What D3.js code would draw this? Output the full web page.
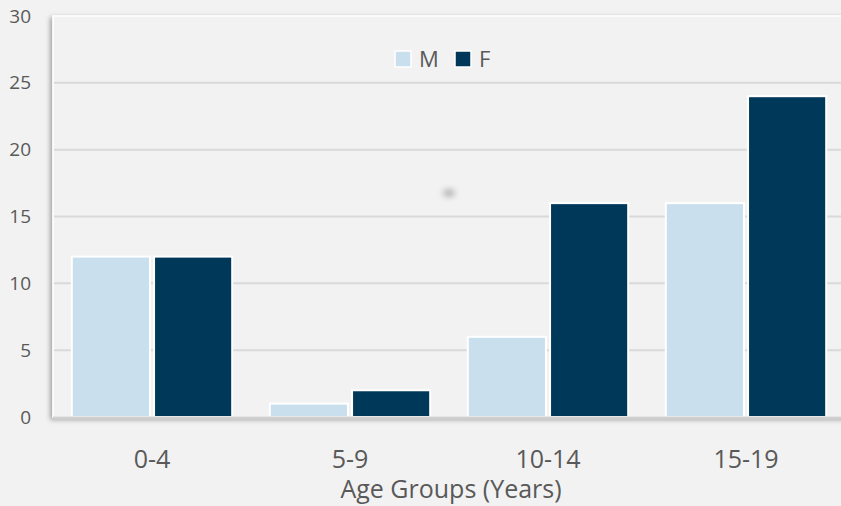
<!DOCTYPE html>
<html>
<head>
<meta charset="utf-8">
<script src="https://cdn.jsdelivr.net/npm/d3@7"></script>
<style>
  body { margin: 0; background: #f2f2f2; }
  svg { display: block; font-family: "Open Sans", "Noto Sans", sans-serif; }
</style>
</head>
<body>
<svg id="viz" width="841" height="506"></svg>
<script>
const ageGroups = ["0-4", "5-9", "10-14", "15-19"],
    sexes = ["M", "F"],
    maleCounts = [12, 1, 6, 16],
    femaleCounts = [12, 2, 16, 24],
    yTicks = [0, 5, 10, 15, 20, 25, 30]

const colors = { M: "#c9dfed", F: "#003859" }

const svg = d3.select("#viz"),
    plotLeft = 53, plotTop = 16, plotRight = 845, plotBottom = 417

const rows = ageGroups.map((g, i) => ({ group: g, M: maleCounts[i], F: femaleCounts[i] }))

const x0 = d3.scaleBand().domain(ageGroups).range([plotLeft, plotRight])
    .paddingInner(0.19).paddingOuter(0.095)
const x1 = d3.scaleBand().domain(sexes).range([0, x0.bandwidth()]).paddingInner(0.05)
const y = d3.scaleLinear().domain([0, 30]).range([plotBottom, plotTop])

// shadow for plot area
const defs = svg.append("defs")
const shadow = defs.append("filter").attr("id", "shadow")
    .attr("x", "-5%").attr("y", "-5%").attr("width", "110%").attr("height", "110%")
shadow.append("feDropShadow").attr("dx", -2).attr("dy", 2)
    .attr("stdDeviation", 2.5).attr("flood-color", "#000").attr("flood-opacity", 0.35)
const blur = defs.append("filter").attr("id", "blur")
    .attr("x", "-100%").attr("y", "-100%").attr("width", "300%").attr("height", "300%")
blur.append("feGaussianBlur").attr("stdDeviation", 3)

svg.append("rect")
    .attr("x", plotLeft).attr("y", plotTop)
    .attr("width", 900).attr("height", plotBottom - plotTop)
    .attr("fill", "#f2f2f2")
    .attr("stroke", "#ffffff").attr("stroke-width", 1.5)
    .attr("filter", "url(#shadow)")

// gridlines
svg.append("g").selectAll("line")
    .data(yTicks.filter(t => t > 0 && t < 30))
    .enter().append("line")
    .attr("x1", plotLeft + 1).attr("x2", 841)
    .attr("y1", d => y(d)).attr("y2", d => y(d))
    .attr("stroke", "#d9d9d9").attr("stroke-width", 2)

// faint smudge in the middle of the plot
svg.append("ellipse")
    .attr("cx", 449).attr("cy", 193).attr("rx", 6).attr("ry", 3.5)
    .attr("fill", "#8a8a8a").attr("opacity", 0.7).attr("filter", "url(#blur)")

// bars
svg.append("g").selectAll("g")
    .data(rows)
    .enter().append("g")
    .attr("transform", d => "translate(" + x0(d.group) + ",0)")
    .selectAll("rect")
    .data(d => sexes.map(s => ({ key: s, value: d[s] })))
    .enter().append("rect")
    .attr("x", d => x1(d.key))
    .attr("y", d => y(d.value))
    .attr("width", x1.bandwidth())
    .attr("height", d => y(0) - y(d.value))
    .attr("fill", d => colors[d.key])
    .attr("stroke", "#ffffff").attr("stroke-width", 2)

// baseline
svg.append("line")
    .attr("x1", plotLeft).attr("x2", 841)
    .attr("y1", plotBottom + 1).attr("y2", plotBottom + 1)
    .attr("stroke", "#cfcfcf").attr("stroke-width", 3)

// y axis labels
const yAxis = svg.append("g")
    .attr("transform", "translate(31,0)")
    .call(d3.axisLeft(y).tickValues(yTicks).tickSize(0).tickPadding(0))
yAxis.select(".domain").remove()
yAxis.selectAll("text")
    .attr("font-size", 19).attr("fill", "#595959")
    .attr("font-family", "'Open Sans', sans-serif")

// x axis labels
const xAxis = svg.append("g")
    .attr("transform", "translate(0," + plotBottom + ")")
    .call(d3.axisBottom(x0).tickSize(0).tickPadding(0))
xAxis.select(".domain").remove()
xAxis.selectAll("text")
    .attr("dy", null).attr("y", 51)
    .attr("font-size", 25).attr("fill", "#595959")
    .attr("font-family", "'Open Sans', sans-serif")

svg.append("text")
    .attr("x", 451).attr("y", 498)
    .attr("text-anchor", "middle")
    .attr("font-size", 25).attr("fill", "#595959")
    .text("Age Groups (Years)")

// legend
const legend = svg.append("g")
const legendX = [395, 455]
sexes.forEach((s, i) => {
    legend.append("rect")
        .attr("x", legendX[i]).attr("y", 51)
        .attr("width", 16).attr("height", 16)
        .attr("fill", colors[s]).attr("stroke", "#ffffff").attr("stroke-width", 1.5)
    legend.append("text")
        .attr("x", legendX[i] + 24).attr("y", 67)
        .attr("font-size", 22).attr("fill", "#595959")
        .text(s)
})
</script>
</body>
</html>
